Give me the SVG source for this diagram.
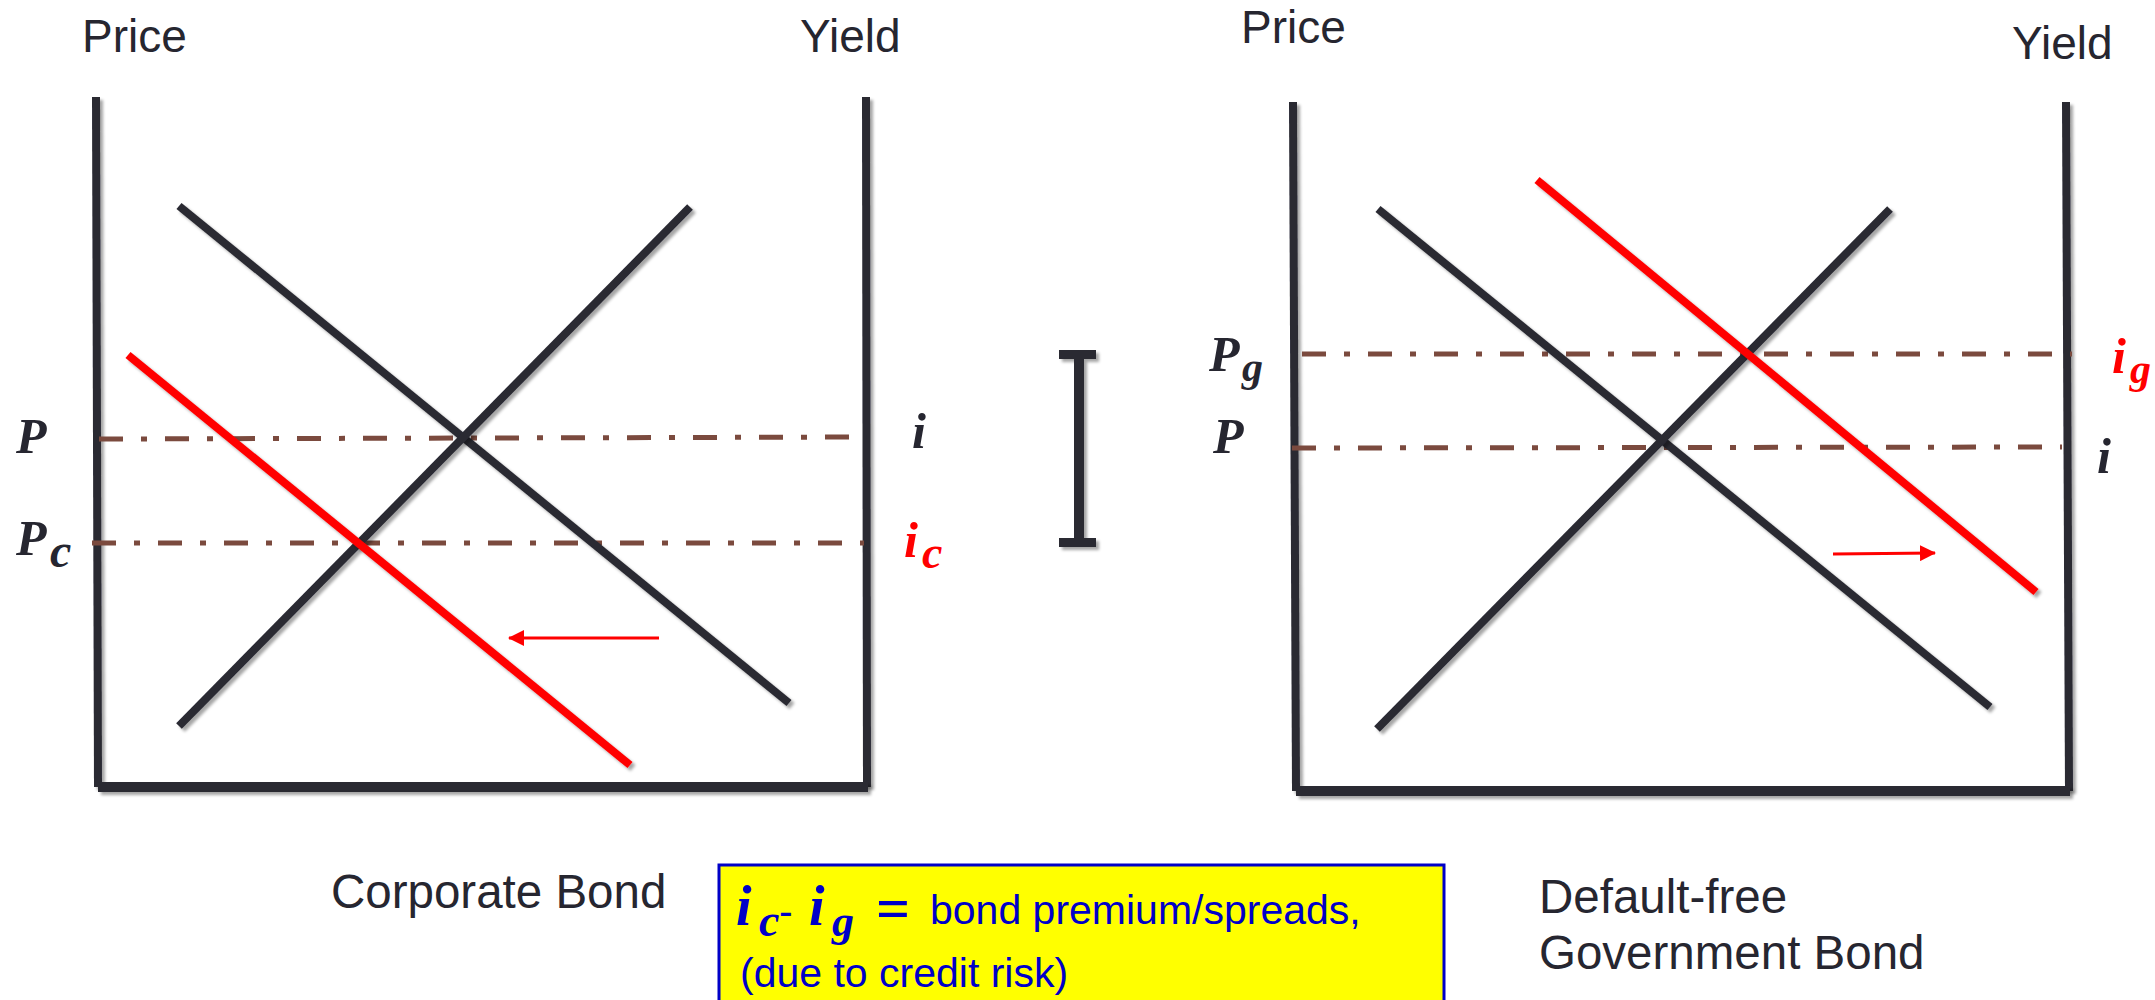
<svg xmlns="http://www.w3.org/2000/svg" width="2155" height="1000" viewBox="0 0 2155 1000">
<defs>
<filter id="sh" filterUnits="userSpaceOnUse" x="0" y="0" width="2155" height="1000">
<feDropShadow dx="3" dy="3" stdDeviation="1.8" flood-color="#000" flood-opacity="0.35"/>
</filter>
<marker id="ah" viewBox="0 0 16 16" refX="15" refY="8" markerWidth="16" markerHeight="16" markerUnits="userSpaceOnUse" orient="auto">
<path d="M0,0 L16,8 L0,16 Z" fill="#FF0000"/>
</marker>
<style>
.ax{stroke:#292933;stroke-width:8;fill:none;filter:url(#sh)}
.axb{stroke:#292933;stroke-width:10;fill:none;filter:url(#sh)}
.cv{stroke:#292933;stroke-width:8;fill:none;filter:url(#sh)}
.rc{stroke:#FF0000;stroke-width:8;fill:none;filter:url(#sh)}
.dd{stroke:#7B4A3E;stroke-width:5;fill:none;stroke-dasharray:24 18 6 18}
.lbl{font-family:"Liberation Sans",Arial,sans-serif;font-size:46px;fill:#262630}
.cap{font-family:"Liberation Sans",Arial,sans-serif;font-size:47.5px;fill:#262630}
.m{font-family:"Liberation Serif","Times New Roman",serif;font-weight:bold;font-style:italic;font-size:50px;fill:#262630}
.red{fill:#FF0000}
.arr{stroke:#FF0000;stroke-width:3;fill:none}
.bx{font-family:"Liberation Sans",Arial,sans-serif;font-size:41px;fill:#0000C8}
.bm{font-family:"Liberation Serif","Times New Roman",serif;font-weight:bold;font-style:italic;fill:#0000C8}
</style>
</defs>
<rect width="2155" height="1000" fill="#FFFFFF"/>

<g id="corporate-panel">
<line class="ax" x1="96" y1="97" x2="98" y2="787"/>
<line class="ax" x1="866" y1="97" x2="867" y2="787"/>
<line class="axb" x1="98" y1="787" x2="868" y2="787"/>
<line class="dd" x1="99" y1="439" x2="867" y2="437"/>
<line class="dd" x1="92" y1="543" x2="864" y2="543"/>
<line class="cv" x1="179" y1="206" x2="789" y2="703"/>
<line class="cv" x1="179" y1="726" x2="690" y2="207"/>
<line class="rc" x1="128" y1="355" x2="630" y2="765"/>
<text class="lbl" x="82" y="52">Price</text>
<text class="lbl" x="800" y="52">Yield</text>
<text class="m" x="16" y="453">P</text>
<text class="m" x="16" y="555">P<tspan x="50" y="567" font-size="48">c</tspan></text>
<text class="m" x="912" y="448">i</text>
<text class="m red" x="904" y="557">i<tspan x="922" y="568" font-size="46">c</tspan></text>
<text class="cap" x="331" y="908">Corporate Bond</text>
</g>

<g id="ibeam" filter="url(#sh)" fill="#292933">
<rect x="1059" y="350" width="37" height="9"/>
<rect x="1074" y="355" width="10" height="188"/>
<rect x="1059" y="538" width="37" height="9"/>
</g>

<g id="government-panel">
<line class="ax" x1="1293" y1="102" x2="1296" y2="791"/>
<line class="ax" x1="2066" y1="102" x2="2069" y2="791"/>
<line class="axb" x1="1296" y1="791" x2="2070" y2="791"/>
<line class="dd" x1="1302" y1="354" x2="2072" y2="354"/>
<line class="dd" x1="1292" y1="448" x2="2062" y2="447"/>
<line class="cv" x1="1378" y1="209" x2="1990" y2="707"/>
<line class="cv" x1="1377" y1="729" x2="1890" y2="209"/>
<line class="rc" x1="1537" y1="180" x2="2036" y2="592"/>
<text class="lbl" x="1241" y="43">Price</text>
<text class="lbl" x="2012" y="59">Yield</text>
<text class="m" x="1209" y="371">P<tspan x="1242" y="381" font-size="42">g</tspan></text>
<text class="m" x="1213" y="453">P</text>
<text class="m red" x="2112" y="373">i<tspan x="2130" y="383" font-size="42">g</tspan></text>
<text class="m" x="2097" y="473">i</text>
<text class="cap" x="1539" y="913">Default-free</text>
<text class="cap" x="1539" y="969">Government Bond</text>
</g>

<g id="connectors">
<line class="arr" x1="659" y1="638" x2="509" y2="638" marker-end="url(#ah)"/>
<line class="arr" x1="1833" y1="554" x2="1935" y2="553" marker-end="url(#ah)"/>
</g>

<g id="spread-note">
<rect x="719" y="865" width="725" height="145" fill="#FFFF00" stroke="#0000C8" stroke-width="3"/>
<text class="bm" x="736" y="925" font-size="56">i<tspan x="759" y="936" font-size="46">c</tspan></text>
<text class="bx" x="779" y="925">-</text>
<text class="bm" x="809" y="925" font-size="56">i<tspan x="832" y="936" font-size="44">g</tspan></text>
<text x="876" y="928" font-family="Liberation Serif, serif" font-weight="bold" font-size="60" fill="#0000C8">=</text>
<text class="bx" x="930" y="924">bond premium/spreads,</text>
<text class="bx" x="740" y="987">(due to credit risk)</text>
</g>
</svg>
